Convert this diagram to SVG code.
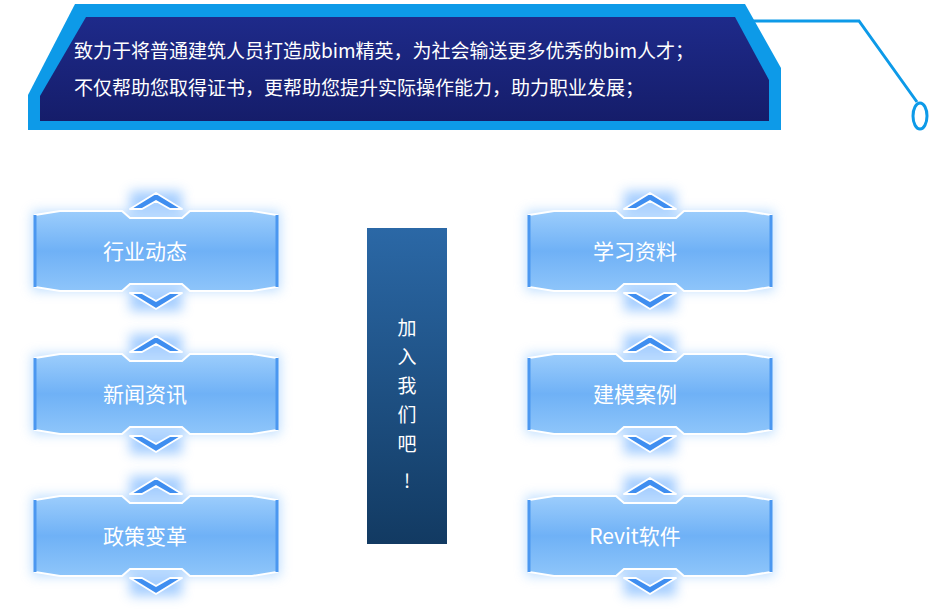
<svg xmlns="http://www.w3.org/2000/svg" width="929" height="611" viewBox="0 0 929 611">
<defs>
<linearGradient id="nv" x1="0" y1="0" x2="0" y2="1"><stop offset="0" stop-color="#1e2a8a"/><stop offset="1" stop-color="#151d6a"/></linearGradient>
<linearGradient id="mid" x1="0" y1="0" x2="0" y2="1"><stop offset="0" stop-color="#2b68a6"/><stop offset="1" stop-color="#123a62"/></linearGradient>
<linearGradient id="bt" x1="0" y1="0" x2="0" y2="1"><stop offset="0" stop-color="#9ccdfc"/><stop offset="0.5" stop-color="#6fb1f6"/><stop offset="1" stop-color="#8ec5fa"/></linearGradient>
<filter id="gl" x="-30%" y="-60%" width="160%" height="220%"><feGaussianBlur stdDeviation="6"/></filter>
<g id="btn">
<path d="M-124,-40 H124 V40 H-124 Z" fill="#8fc6ff" opacity="0.6" filter="url(#gl)"/>
<path d="M-26,-60 H26 V-38 H-26Z M-26,38 H26 V60 H-26Z" fill="#6aaeff" opacity="0.6" filter="url(#gl)"/>
<path d="M-121,-36 L-96,-40 H-34 L-26,-33 H26 L34,-40 H96 L121,-36 V36 L96,40 H34 L26,33 H-26 L-34,40 H-96 L-121,36 Z" fill="url(#bt)" stroke="#ffffff" stroke-width="2"/>
<path d="M-121,-36 V36 M121,-36 V36" stroke="#4b97f0" stroke-width="3"/>
<path d="M-26,-42 L0,-58 L26,-42 H14 L0,-50 L-14,-42 Z" fill="#3f8ef0" stroke="#ffffff" stroke-width="2" stroke-linejoin="round"/>
<path d="M-26,42 L0,58 L26,42 H14 L0,50 L-14,42 Z" fill="#3f8ef0" stroke="#ffffff" stroke-width="2" stroke-linejoin="round"/>
</g>
</defs>
<style>
.t{font-family:"Noto Sans CJK SC","Noto Sans",sans-serif;fill:#fff}
.bl{font-size:21px;text-anchor:middle}
.bn{font-size:19px}
</style>
<g id="banner">
<path d="M75,4 H745 L781,68 V130 H28 V95 Z" fill="#0d9ae8"/>
<path d="M86,17 H735 L769,80 V121 H40 V96 Z" fill="url(#nv)"/>
<text class="t bn" x="74" y="58">致力于将普通建筑人员打造成bim精英，为社会输送更多优秀的bim人才；</text>
<text class="t bn" x="74" y="95">不仅帮助您取得证书，更帮助您提升实际操作能力，助力职业发展；</text>
</g>
<g id="connectors">
<path d="M745,21 H859 L917,102" fill="none" stroke="#0d9ae8" stroke-width="3"/>
<ellipse cx="920" cy="116" rx="7" ry="13" fill="#fff" stroke="#0d9ae8" stroke-width="3"/>
</g>
<g id="n1" transform="translate(156,251)"><use href="#btn"/><text class="t bl" x="-11" y="8">行业动态</text></g>
<g id="n2" transform="translate(156,394)"><use href="#btn"/><text class="t bl" x="-11" y="8">新闻资讯</text></g>
<g id="n3" transform="translate(156,536)"><use href="#btn"/><text class="t bl" x="-11" y="8">政策变革</text></g>
<g id="n4" transform="translate(650,251)"><use href="#btn"/><text class="t bl" x="-15" y="8">学习资料</text></g>
<g id="n5" transform="translate(650,394)"><use href="#btn"/><text class="t bl" x="-15" y="8">建模案例</text></g>
<g id="n6" transform="translate(650,536)"><use href="#btn"/><text class="t bl" x="-15" y="8">Revit软件</text></g>
<g id="join">
<rect x="367" y="228" width="80" height="316" fill="url(#mid)"/>
<text class="t" x="407" y="335" font-size="19" text-anchor="middle">加</text>
<text class="t" x="407" y="364" font-size="19" text-anchor="middle">入</text>
<text class="t" x="407" y="393" font-size="19" text-anchor="middle">我</text>
<text class="t" x="407" y="422" font-size="19" text-anchor="middle">们</text>
<text class="t" x="407" y="451" font-size="19" text-anchor="middle">吧</text>
<text class="t" x="407" y="488" font-size="19" text-anchor="middle">!</text>
</g>
</svg>
